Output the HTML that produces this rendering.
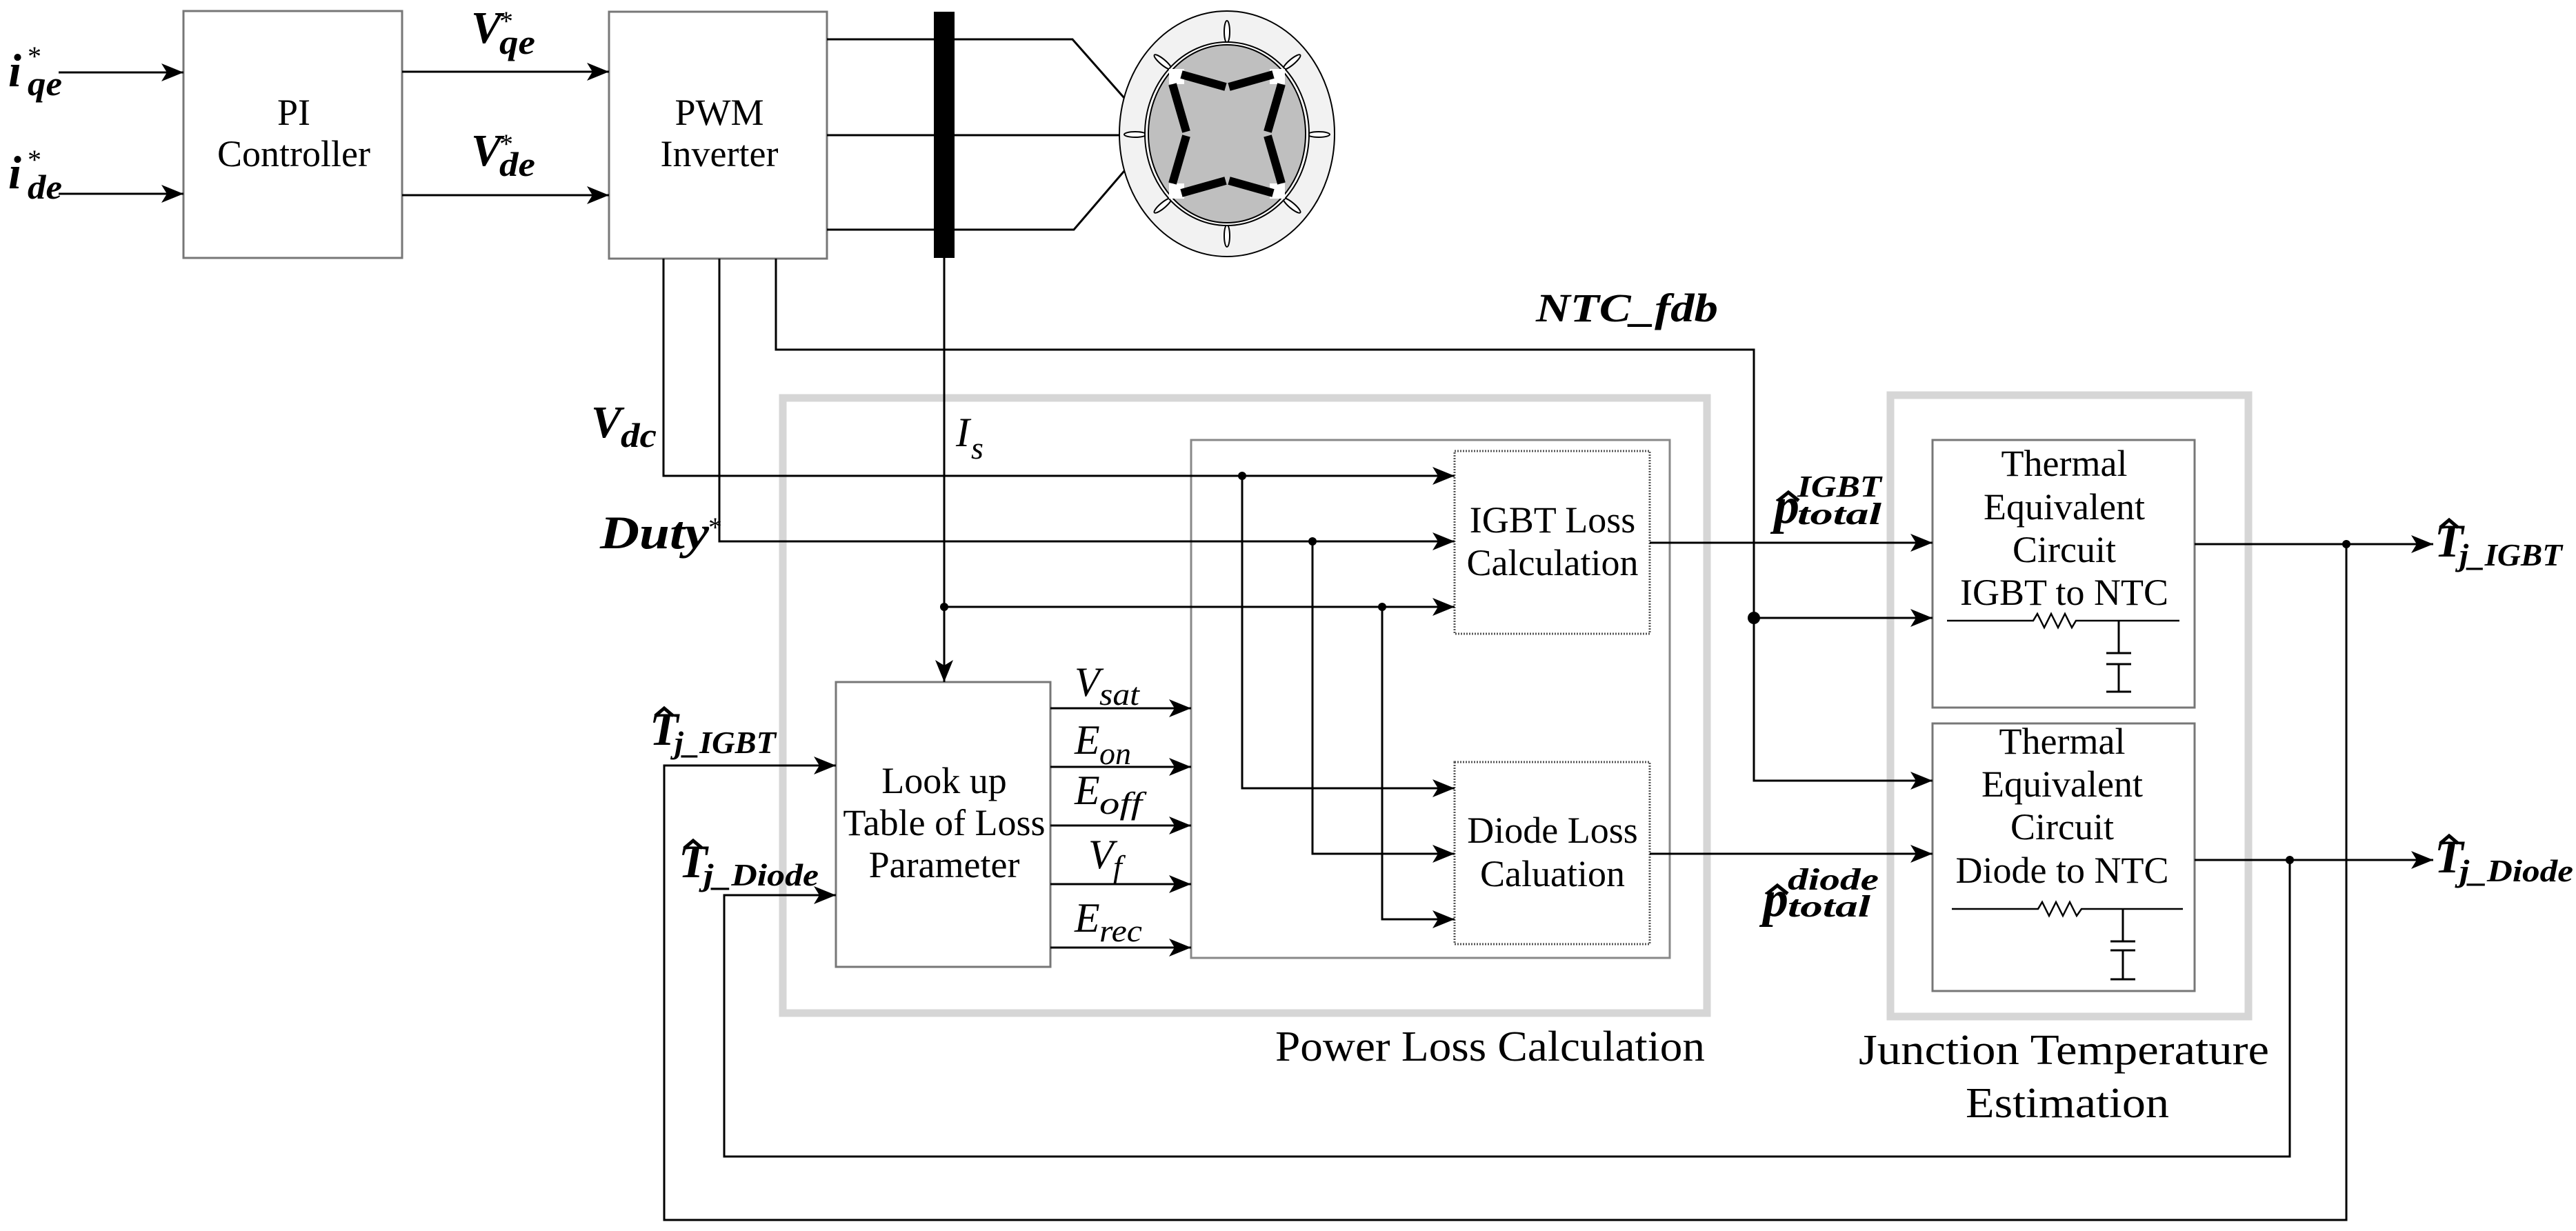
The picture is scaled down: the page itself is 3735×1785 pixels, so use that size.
<!DOCTYPE html>
<html><head><meta charset="utf-8"><style>
html,body{margin:0;padding:0;background:#fff;}
svg{display:block;}
text{font-family:"Liberation Serif","DejaVu Serif",serif;fill:#000;}
.bi{font-weight:bold;font-style:italic;}
.it{font-style:italic;}
</style></head><body>
<svg width="3735" height="1785" viewBox="0 0 3735 1785" xmlns="http://www.w3.org/2000/svg">
<defs>
<marker id="a" markerUnits="userSpaceOnUse" markerWidth="34" markerHeight="26" refX="32" refY="13" orient="auto">
<path d="M0,0 L32,13 L0,26 L8,13 Z" fill="#000"/></marker>
</defs>
<g fill="none" stroke="#000" stroke-width="3">
<rect x="1135" y="577" width="1340" height="892" stroke="#d6d6d6" stroke-width="11"/>
<rect x="2741" y="573" width="519" height="901" stroke="#d6d6d6" stroke-width="11"/>
<rect x="266" y="16" width="317" height="358" stroke="#777"/>
<rect x="883" y="17" width="316" height="358" stroke="#777"/>
<rect x="1727" y="638" width="694" height="751" stroke="#888"/>
<rect x="1212" y="989" width="311" height="413" stroke="#777"/>
<rect x="2109" y="654" width="283" height="265" stroke="#555" stroke-dasharray="2,2"/>
<rect x="2109" y="1105" width="283" height="264" stroke="#555" stroke-dasharray="2,2"/>
<rect x="2802" y="638" width="380" height="388" stroke="#777"/>
<rect x="2802" y="1049" width="380" height="388" stroke="#777"/>
<line x1="85" y1="105" x2="266" y2="105" marker-end="url(#a)"/>
<line x1="85" y1="281" x2="266" y2="281" marker-end="url(#a)"/>
<line x1="583" y1="104" x2="883" y2="104" marker-end="url(#a)"/>
<line x1="583" y1="283" x2="883" y2="283" marker-end="url(#a)"/>
<polyline points="1199,57 1555,57 1630,142"/>
<polyline points="1199,196 1623,196"/>
<polyline points="1199,333 1557,333 1630,248"/>
<polyline points="962,375 962,690 2109,690" marker-end="url(#a)"/>
<polyline points="1043,375 1043,785 2109,785" marker-end="url(#a)"/>
<polyline points="1125,375 1125,507 2543,507 2543,1132 2802,1132" marker-end="url(#a)"/>
<line x1="2543" y1="896" x2="2802" y2="896" marker-end="url(#a)"/>
<line x1="1369" y1="374" x2="1369" y2="989" marker-end="url(#a)"/>
<line x1="1369" y1="880" x2="2109" y2="880" marker-end="url(#a)"/>
<polyline points="1801,690 1801,1143 2109,1143" marker-end="url(#a)"/>
<polyline points="1903,785 1903,1238 2109,1238" marker-end="url(#a)"/>
<polyline points="2004,880 2004,1333 2109,1333" marker-end="url(#a)"/>
<line x1="1523" y1="1027" x2="1727" y2="1027" marker-end="url(#a)"/>
<line x1="1523" y1="1112" x2="1727" y2="1112" marker-end="url(#a)"/>
<line x1="1523" y1="1197" x2="1727" y2="1197" marker-end="url(#a)"/>
<line x1="1523" y1="1282" x2="1727" y2="1282" marker-end="url(#a)"/>
<line x1="1523" y1="1374" x2="1727" y2="1374" marker-end="url(#a)"/>
<line x1="2392" y1="787" x2="2802" y2="787" marker-end="url(#a)"/>
<line x1="2392" y1="1238" x2="2802" y2="1238" marker-end="url(#a)"/>
<line x1="3182" y1="789" x2="3528" y2="789" marker-end="url(#a)"/>
<line x1="3182" y1="1247" x2="3528" y2="1247" marker-end="url(#a)"/>
<polyline points="3402,789 3402,1769 963,1769 963,1110 1212,1110" marker-end="url(#a)"/>
<polyline points="3320,1247 3320,1677 1050,1677 1050,1298 1212,1298" marker-end="url(#a)"/>
<polyline points="2823,900 2948,900 2954,890 2964,910 2974,890 2984,910 2994,890 3004,910 3010,900 3160,900" stroke-width="2.5"/>
<path d="M3072,900 V947 M3054,947 H3090 M3054,963 H3090 M3072,963 V1003 M3054,1003 H3090"/>
<polyline points="2830,1318 2955,1318 2961,1308 2971,1328 2981,1308 2991,1328 3001,1308 3011,1328 3018,1318 3165,1318" stroke-width="2.5"/>
<path d="M3078,1318 V1365 M3060,1365 H3096 M3060,1378 H3096 M3078,1378 V1420 M3060,1420 H3096"/>
</g>
<rect x="1354" y="17" width="30" height="357" fill="#000"/>
<g fill="#000">
<circle cx="1369" cy="880" r="6"/><circle cx="1801" cy="690" r="6"/><circle cx="1903" cy="785" r="6"/><circle cx="2004" cy="880" r="6"/>
<circle cx="2543" cy="896" r="9"/><circle cx="3402" cy="789" r="6"/><circle cx="3320" cy="1247" r="6"/>
</g>
<g stroke="#000" stroke-width="2">
<ellipse cx="1779" cy="194" rx="156" ry="178" fill="#f2f2f2"/>
<g fill="#fff">
<ellipse cx="1779" cy="46" rx="4" ry="16"/><ellipse cx="1779" cy="342" rx="4" ry="16"/>
<ellipse cx="1646" cy="195" rx="16" ry="4"/><ellipse cx="1912" cy="195" rx="16" ry="4"/>
<ellipse cx="1686" cy="90" rx="16" ry="4" transform="rotate(40 1686 90)"/>
<ellipse cx="1873" cy="90" rx="16" ry="4" transform="rotate(-40 1873 90)"/>
<ellipse cx="1686" cy="298" rx="16" ry="4" transform="rotate(-40 1686 298)"/>
<ellipse cx="1873" cy="298" rx="16" ry="4" transform="rotate(40 1873 298)"/>
</g>
<ellipse cx="1779" cy="194" rx="119" ry="133" fill="#fff"/>
<ellipse cx="1779" cy="194" rx="114" ry="129" fill="#bfbfbf"/>
</g>
<g fill="#fff"><rect x="1695" y="100" width="22" height="22"/><rect x="1841" y="100" width="22" height="22"/><rect x="1695" y="266" width="22" height="22"/><rect x="1841" y="266" width="22" height="22"/></g>
<g stroke="#000" stroke-width="12" fill="none">
<line x1="1713" y1="108" x2="1777" y2="126"/><line x1="1782" y1="126" x2="1846" y2="108"/>
<line x1="1713" y1="280" x2="1777" y2="262"/><line x1="1782" y1="262" x2="1846" y2="280"/>
<line x1="1700" y1="122" x2="1720" y2="191"/><line x1="1720" y1="197" x2="1700" y2="266"/>
<line x1="1858" y1="122" x2="1838" y2="191"/><line x1="1838" y1="197" x2="1858" y2="266"/>
</g>
<g font-size="54" text-anchor="middle">
<text x="426" y="181">PI</text><text x="426" y="241">Controller</text>
<text x="1043" y="181">PWM</text><text x="1043" y="241">Inverter</text>
<text x="1369" y="1150">Look up</text><text x="1369" y="1211">Table of Loss</text><text x="1369" y="1272">Parameter</text>
<text x="2251" y="772">IGBT Loss</text><text x="2251" y="834">Calculation</text>
<text x="2251" y="1222">Diode Loss</text><text x="2251" y="1285">Caluation</text>
<text x="2993" y="690">Thermal</text><text x="2993" y="753">Equivalent</text><text x="2993" y="815">Circuit</text><text x="2993" y="877">IGBT to NTC</text>
<text x="2990" y="1093">Thermal</text><text x="2990" y="1155">Equivalent</text><text x="2990" y="1217">Circuit</text><text x="2990" y="1280">Diode to NTC</text>
</g>
<g font-size="62">
<text x="1849" y="1538" textLength="623" lengthAdjust="spacingAndGlyphs">Power Loss Calculation</text>
<text x="2695" y="1543" textLength="595" lengthAdjust="spacingAndGlyphs">Junction Temperature</text>
<text x="2850" y="1620" textLength="295" lengthAdjust="spacingAndGlyphs">Estimation</text>
</g>
<g class="bi">
<text x="12" y="125" font-size="68">i</text><text x="40" y="138" font-size="50" textLength="50" lengthAdjust="spacingAndGlyphs">qe</text><text x="40" y="95" font-size="40" font-weight="normal" font-style="normal">*</text>
<text x="12" y="273" font-size="68">i</text><text x="40" y="288" font-size="50" textLength="50" lengthAdjust="spacingAndGlyphs">de</text><text x="40" y="245" font-size="40" font-weight="normal" font-style="normal">*</text>
<text x="683" y="62" font-size="66">V</text><text x="724" y="78" font-size="50" textLength="52" lengthAdjust="spacingAndGlyphs">qe</text><text x="724" y="44" font-size="40" font-weight="normal" font-style="normal">*</text>
<text x="683" y="240" font-size="66">V</text><text x="724" y="255" font-size="50" textLength="52" lengthAdjust="spacingAndGlyphs">de</text><text x="724" y="222" font-size="40" font-weight="normal" font-style="normal">*</text>
<text x="857" y="634" font-size="66">V</text><text x="900" y="648" font-size="50" textLength="52" lengthAdjust="spacingAndGlyphs">dc</text>
<text x="870" y="795" font-size="68" textLength="158" lengthAdjust="spacingAndGlyphs">Duty</text><text x="1027" y="778" font-size="40" font-weight="normal" font-style="normal">*</text>
<text x="2227" y="466" font-size="58" textLength="264" lengthAdjust="spacingAndGlyphs">NTC_fdb</text>
<text x="2572" y="758" font-size="74">p</text><text x="2606" y="720" font-size="44" textLength="122" lengthAdjust="spacingAndGlyphs">IGBT</text><text x="2606" y="760" font-size="44" textLength="122" lengthAdjust="spacingAndGlyphs">total</text>
<text x="2556" y="1328" font-size="74">p</text><text x="2592" y="1290" font-size="44" textLength="132" lengthAdjust="spacingAndGlyphs">diode</text><text x="2592" y="1329" font-size="44" textLength="120" lengthAdjust="spacingAndGlyphs">total</text>
<text x="942" y="1080" font-size="68">T</text><text x="978" y="1092" font-size="46" textLength="147" lengthAdjust="spacingAndGlyphs">j_IGBT</text>
<text x="984" y="1272" font-size="68">T</text><text x="1020" y="1284" font-size="46" textLength="167" lengthAdjust="spacingAndGlyphs">j_Diode</text>
<text x="3530" y="807" font-size="68">T</text><text x="3566" y="820" font-size="46" textLength="149" lengthAdjust="spacingAndGlyphs">j_IGBT</text>
<text x="3530" y="1265" font-size="68">T</text><text x="3566" y="1278" font-size="46" textLength="165" lengthAdjust="spacingAndGlyphs">j_Diode</text>
</g>
<g class="it">
<text x="1386" y="647" font-size="60">I</text><text x="1408" y="665" font-size="46">s</text>
<text x="1558" y="1009" font-size="60">V</text><text x="1594" y="1022" font-size="46" textLength="58" lengthAdjust="spacingAndGlyphs">sat</text>
<text x="1558" y="1093" font-size="60">E</text><text x="1594" y="1108" font-size="46" textLength="46" lengthAdjust="spacingAndGlyphs">on</text>
<text x="1558" y="1166" font-size="60">E</text><text x="1594" y="1180" font-size="46" textLength="62" lengthAdjust="spacingAndGlyphs">off</text>
<text x="1578" y="1259" font-size="60">V</text><text x="1614" y="1272" font-size="46">f</text>
<text x="1558" y="1351" font-size="60">E</text><text x="1594" y="1365" font-size="46" textLength="62" lengthAdjust="spacingAndGlyphs">rec</text>
</g>
<g fill="none" stroke="#000" stroke-width="5">
<polyline points="950,1038 963,1027 976,1038"/>
<polyline points="992,1230 1005,1219 1018,1230"/>
<polyline points="3538,765 3551,754 3564,765"/>
<polyline points="3538,1223 3551,1212 3564,1223"/>
<polyline points="2578,726 2593,714 2608,726"/>
<polyline points="2562,1296 2577,1284 2592,1296"/>
</g>
</svg>
</body></html>
